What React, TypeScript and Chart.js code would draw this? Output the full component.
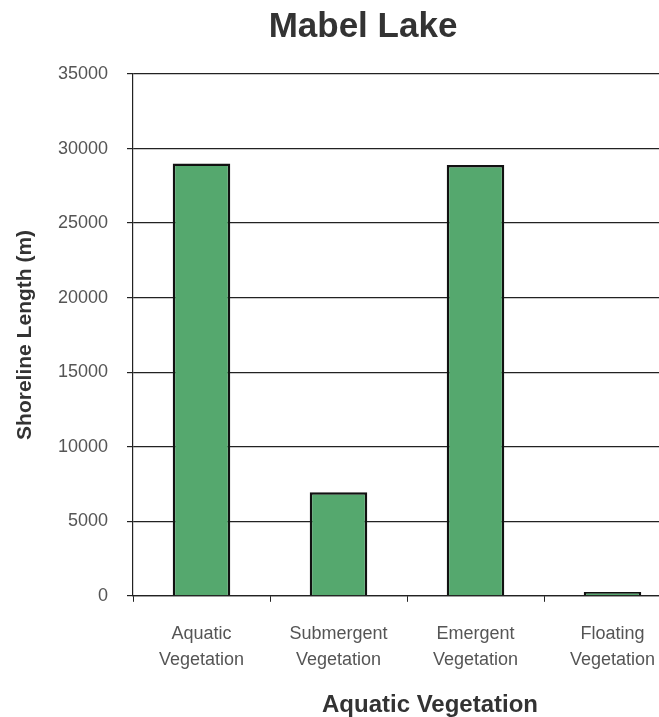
import React, { useEffect, useRef } from "react";
import { Chart, registerables } from "chart.js";

Chart.register(...registerables);

const chartTitle = "Mabel Lake";
const xAxisTitle = "Aquatic Vegetation";
const yAxisTitle = "Shoreline Length (m)";
const categories: string[][] = [
  ["Aquatic", "Vegetation"],
  ["Submergent", "Vegetation"],
  ["Emergent", "Vegetation"],
  ["Floating", "Vegetation"],
];
const shorelineLength: number[] = [29000, 6950, 28900, 250];
const yMin = 0;
const yMax = 35000;
const yStep = 5000;

const FONT = "'Liberation Sans', Arial, sans-serif";

const titlesPlugin = {
  id: "customTitles",
  afterDraw(chart: any) {
    const ctx = chart.ctx;
    ctx.save();
    ctx.fillStyle = "#333333";
    ctx.textAlign = "center";
    ctx.textBaseline = "middle";
    ctx.font = `bold 35px ${FONT}`;
    ctx.fillText(chartTitle, 363, 27);
    ctx.font = `bold 24px ${FONT}`;
    ctx.fillText(xAxisTitle, 430, 705);
    ctx.restore();
  },
};

export default function App() {
  const ref = useRef<HTMLCanvasElement | null>(null);
  useEffect(() => {
    if (!ref.current) return;
    const chart = new Chart(ref.current, {
      type: "bar",
      data: {
        labels: categories,
        datasets: [
          {
            data: shorelineLength,
            backgroundColor: "#55a86e",
            borderColor: "#111111",
            borderWidth: 2.5,
            barPercentage: 0.42,
            categoryPercentage: 1,
          },
        ],
      },
      options: {
        responsive: false,
        animation: false,
        layout: { padding: { top: 74, left: 8, right: 45, bottom: 25 } },
        plugins: {
          legend: { display: false },
          title: { display: false },
          tooltip: { enabled: false },
        },
        scales: {
          x: {
            grid: {
              display: true,
              drawOnChartArea: false,
              drawTicks: true,
              tickLength: 6,
              color: "#222222",
              offset: true,
            },
            border: { display: true, color: "#222222", width: 1.2 },
            ticks: {
              color: "#555555",
              font: { family: FONT, size: 18, lineHeight: 1.45 },
              padding: 19,
              maxRotation: 0,
              autoSkip: false,
            },
          },
          y: {
            min: yMin,
            max: yMax,
            afterFit: (scale: any) => {
              scale.width = 125;
            },
            grid: {
              color: "#222222",
              lineWidth: 1.2,
              drawTicks: true,
              tickLength: 6,
            },
            border: { display: true, color: "#222222", width: 1.2 },
            ticks: {
              stepSize: yStep,
              color: "#555555",
              font: { family: FONT, size: 18 },
              padding: 19,
              callback: (v: any) => String(v),
            },
            title: {
              display: true,
              text: yAxisTitle,
              color: "#333333",
              font: { family: FONT, size: 21, weight: "bold" },
              padding: { top: 5, bottom: 0 },
            },
          },
        },
      },
      plugins: [titlesPlugin],
    });
    return () => chart.destroy();
  }, []);

  return (
    <div
      style={{
        position: "fixed",
        left: 0,
        top: 0,
        width: 659,
        height: 717,
        overflow: "hidden",
        background: "#ffffff",
      }}
    >
      <canvas ref={ref} width={726} height={717} style={{ display: "block" }} />
    </div>
  );
}
